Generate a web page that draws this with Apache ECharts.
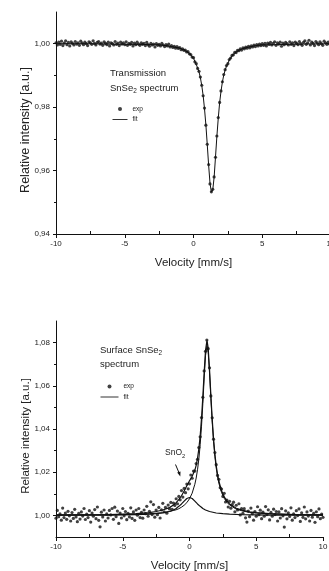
<!DOCTYPE html>
<html><head><meta charset="utf-8">
<script src="https://cdn.jsdelivr.net/npm/echarts@6/dist/echarts.min.js"></script>
<style>html,body{margin:0;padding:0;background:#fff}#c{width:329px;height:571px}</style>
</head><body><div id="c"></div>
<script>
// Channel velocities (mm/s), shared by both spectra
const velocity = [
-10,-9.9,-9.8,-9.7,-9.6,-9.5,-9.4,-9.3,-9.2,-9.1,
-9,-8.9,-8.8,-8.7,-8.6,-8.5,-8.4,-8.3,-8.2,-8.1,
-8,-7.9,-7.8,-7.7,-7.6,-7.5,-7.4,-7.3,-7.2,-7.1,
-7,-6.9,-6.8,-6.7,-6.6,-6.5,-6.4,-6.3,-6.2,-6.1,
-6,-5.9,-5.8,-5.7,-5.6,-5.5,-5.4,-5.3,-5.2,-5.1,
-5,-4.9,-4.8,-4.7,-4.6,-4.5,-4.4,-4.3,-4.2,-4.1,
-4,-3.9,-3.8,-3.7,-3.6,-3.5,-3.4,-3.3,-3.2,-3.1,
-3,-2.9,-2.8,-2.7,-2.6,-2.5,-2.4,-2.3,-2.2,-2.1,
-2,-1.9,-1.8,-1.7,-1.6,-1.5,-1.4,-1.3,-1.2,-1.1,
-1,-0.9,-0.8,-0.7,-0.6,-0.5,-0.4,-0.3,-0.2,-0.1,
0,0.1,0.2,0.3,0.4,0.5,0.6,0.7,0.8,0.9,
1,1.1,1.2,1.3,1.4,1.5,1.6,1.7,1.8,1.9,
2,2.1,2.2,2.3,2.4,2.5,2.6,2.7,2.8,2.9,
3,3.1,3.2,3.3,3.4,3.5,3.6,3.7,3.8,3.9,
4,4.1,4.2,4.3,4.4,4.5,4.6,4.7,4.8,4.9,
5,5.1,5.2,5.3,5.4,5.5,5.6,5.7,5.8,5.9,
6,6.1,6.2,6.3,6.4,6.5,6.6,6.7,6.8,6.9,
7,7.1,7.2,7.3,7.4,7.5,7.6,7.7,7.8,7.9,
8,8.1,8.2,8.3,8.4,8.5,8.6,8.7,8.8,8.9,
9,9.1,9.2,9.3,9.4,9.5,9.6,9.7,9.8,9.9,10];

// Transmission spectrum, measured points
const transmissionExp = [
1.0003,0.9996,1.0005,0.9998,1.0008,0.9994,1.0002,1.0009,0.9997,1.0004,
0.9993,1.0006,1.0001,0.9996,1.0007,0.9999,1.0003,0.9995,1.0008,1.0002,
0.9997,1.0005,1.0000,0.9994,1.0006,1.0003,0.9998,1.0009,1.0001,0.9996,
1.0004,1.0007,0.9999,1.0002,0.9995,1.0006,1.0001,0.9997,1.0005,0.9993,
1.0003,1.0000,0.9996,1.0007,0.9998,1.0002,0.9994,1.0005,0.9999,1.0003,
0.9997,1.0006,0.9995,1.0001,0.9998,1.0004,0.9993,1.0002,0.9997,1.0005,
0.9999,0.9995,1.0003,0.9998,1.0001,0.9994,1.0004,0.9997,0.9992,1.0001,
0.9996,0.9999,0.9990,1.0000,0.9995,0.9998,0.9993,1.0001,0.9996,0.9991,
0.9997,0.9993,0.9999,0.9990,0.9994,0.9988,0.9992,0.9986,0.9991,0.9985,
0.9988,0.9981,0.9984,0.9979,0.9980,0.9974,0.9975,0.9968,0.9966,0.9958,
0.9956,0.9943,0.9937,0.9922,0.9913,0.9895,0.9869,0.9836,0.9797,0.9743,
0.9683,0.9619,0.9558,0.9533,0.9541,0.9580,0.9642,0.9709,0.9767,0.9815,
0.9851,0.9880,0.9903,0.9918,0.9931,0.9937,0.9950,0.9955,0.9963,0.9965,
0.9973,0.9972,0.9979,0.9978,0.9984,0.9980,0.9987,0.9984,0.9989,0.9986,
0.9992,0.9987,0.9993,0.9990,0.9996,0.9991,0.9997,0.9993,0.9999,0.9994,
1.0000,0.9995,1.0001,0.9993,1.0002,0.9998,1.0004,0.9996,1.0001,1.0006,
0.9995,1.0003,0.9999,1.0005,0.9992,1.0002,0.9997,1.0004,1.0000,0.9996,
1.0006,0.9998,1.0003,0.9994,1.0005,1.0001,0.9997,1.0007,1.0000,0.9995,
1.0004,1.0009,0.9998,1.0003,1.0011,0.9996,1.0005,1.0001,0.9994,1.0007,
1.0002,0.9997,1.0006,1.0000,0.9995,1.0008,1.0003,0.9998,1.0005,0.9999,1.0004];

// Transmission spectrum, fit curve
const transFitV = [-10,-8,-6,-5,-4,-3,-2.5,-2,-1.5,-1,-0.6,-0.3,0,0.2,0.4,0.5,0.6,0.7,0.8,0.9,1.0,1.1,1.2,1.3,1.33,1.4,1.5,1.6,1.7,1.8,1.9,2.0,2.1,2.2,2.3,2.4,2.6,2.8,3.0,3.3,3.6,4,4.5,5,6,7,8,10];
const transFit  = [1.0000,1.0000,0.9999,0.9998,0.9998,0.9997,0.9996,0.9994,0.9990,0.9986,0.9978,0.9970,0.9954,0.9935,0.9911,0.9893,0.9868,0.9837,0.9795,0.9744,0.9682,0.9617,0.9560,0.9532,0.9530,0.9539,0.9579,0.9643,0.9708,0.9765,0.9814,0.9850,0.9879,0.9901,0.9917,0.9929,0.9948,0.9962,0.9971,0.9979,0.9985,0.9989,0.9994,0.9996,0.9997,0.9998,0.9999,1.0000];

// Surface spectrum, measured points
const surfaceExp = [
0.9987,1.0023,0.9994,1.0007,0.9978,1.0034,0.9990,1.0011,0.9982,1.0019,
0.9998,0.9974,1.0013,0.9986,1.0028,0.9993,0.9971,1.0009,0.9983,1.0016,
0.9997,1.0032,0.9981,1.0006,0.9990,1.0022,0.9969,1.0011,0.9996,1.0027,
0.9985,1.0039,0.9977,0.9947,1.0015,0.9993,1.0025,0.9974,1.0007,0.9988,
1.0023,1.0002,1.0032,0.9982,1.0038,0.9994,1.0020,0.9963,1.0011,0.9988,
1.0032,0.9998,1.0018,0.9980,1.0009,0.9993,1.0035,0.9986,1.0016,0.9977,
1.0025,1.0001,1.0032,0.9990,1.0014,0.9987,1.0025,1.0008,1.0042,0.9996,
1.0019,1.0063,1.0004,1.0050,0.9992,1.0025,1.0003,1.0037,0.9988,1.0026,
1.0056,1.0017,1.0037,1.0010,1.0048,1.0030,1.0060,1.0028,1.0057,1.0046,
1.0077,1.0054,1.0088,1.0072,1.0115,1.0085,1.0125,1.0105,1.0145,1.0123,
1.0146,1.0187,1.0172,1.0205,1.0205,1.0240,1.0260,1.0314,1.0364,1.0453,
1.0547,1.0669,1.0760,1.0812,1.0772,1.0683,1.0553,1.0452,1.0353,1.0291,
1.0235,1.0185,1.0167,1.0128,1.0122,1.0088,1.0102,1.0062,1.0071,1.0039,
1.0065,1.0033,1.0050,1.0061,1.0017,1.0047,1.0025,1.0054,1.0002,1.0032,
1.0010,1.0031,0.9989,0.9969,1.0020,0.9994,1.0034,1.0008,0.9978,1.0018,
0.9996,1.0040,1.0003,1.0024,0.9985,1.0015,0.9996,1.0041,1.0004,1.0026,
0.9979,1.0014,0.9996,1.0029,1.0004,1.0018,0.9974,1.0016,0.9988,1.0031,
0.9998,0.9946,1.0021,0.9984,1.0012,0.9995,1.0035,0.9978,1.0007,0.9990,
1.0022,0.9999,1.0030,0.9972,1.0012,0.9991,1.0039,0.9984,1.0016,0.9997,
0.9974,1.0023,0.9992,1.0009,0.9968,1.0017,0.9994,1.0030,0.9985,1.0006,0.9991];

// Surface spectrum, fit curves (total and SnSe2 component)
const surfFitV = [-10,-8,-6,-5,-4,-3,-2.5,-2,-1.5,-1.2,-1,-0.8,-0.6,-0.4,-0.2,0,0.2,0.4,0.5,0.6,0.7,0.8,0.9,1.0,1.1,1.2,1.31,1.4,1.5,1.6,1.7,1.8,1.9,2.0,2.1,2.2,2.4,2.6,2.8,3.0,3.5,4,4.5,5,6,7,8,10];
const surfFitTotal = [1.0002,1.0003,1.0004,1.0006,1.0008,1.0013,1.0018,1.0025,1.0036,1.0048,1.0059,1.0073,1.0091,1.0113,1.0137,1.0160,1.0181,1.0210,1.0232,1.0264,1.0308,1.0369,1.0449,1.0550,1.0664,1.0764,1.0810,1.0774,1.0677,1.0557,1.0447,1.0356,1.0285,1.0231,1.0190,1.0158,1.0114,1.0086,1.0067,1.0053,1.0033,1.0023,1.0016,1.0013,1.0008,1.0006,1.0004,1.0002];
const surfFitSnSe2 = [1.0001,1.0002,1.0003,1.0004,1.0005,1.0008,1.0010,1.0013,1.0018,1.0023,1.0026,1.0031,1.0038,1.0047,1.0059,1.0077,1.0103,1.0144,1.0173,1.0211,1.0261,1.0327,1.0413,1.0518,1.0636,1.0739,1.0787,1.0754,1.0659,1.0541,1.0432,1.0343,1.0273,1.0220,1.0180,1.0149,1.0106,1.0079,1.0061,1.0048,1.0029,1.0020,1.0014,1.0011,1.0007,1.0005,1.0003,1.0002];
// SnO2 component
const snO2V   = [-10,-8,-6,-5,-4,-3,-2.5,-2,-1.5,-1.2,-1,-0.8,-0.6,-0.4,-0.2,0,0.2,0.4,0.6,0.8,1,1.2,1.5,2,2.5,3,4,5,6,8,10];
const snO2Fit = [1.0001,1.0001,1.0001,1.0002,1.0003,1.0006,1.0008,1.0011,1.0018,1.0025,1.0032,1.0042,1.0053,1.0066,1.0078,1.0083,1.0078,1.0066,1.0053,1.0042,1.0032,1.0025,1.0018,1.0011,1.0008,1.0006,1.0003,1.0002,1.0001,1.0001,1.0001];

// Tick values
const xTicks = [-10,-5,0,5,10];
const xMinorTicks = [-7.5,-2.5,2.5,7.5];
const transYTicks = [0.94,0.96,0.98,1.00];
const transYMinor = [0.95,0.97,0.99];
const surfYTicks = [1.00,1.02,1.04,1.06,1.08];
const surfYMinor = [1.01,1.03,1.05,1.07];

const FONT = '"Liberation Sans", Arial, sans-serif';
const AX = '#111';
const pairs = (xs, ys) => xs.map((x, i) => [x, ys[i]]);
const fmtY = v => v.toFixed(2).replace('.', ',');

function xMain(gi) {
  return { type:'value', gridIndex:gi, position:'bottom', min:-10, max:10, interval:5,
    axisLine:{show:true, onZero:false, lineStyle:{color:AX, width:1}},
    axisTick:{show:true, inside:false, length:4, customValues:xTicks, lineStyle:{color:AX}},
    axisLabel:{fontSize:8, fontFamily:FONT, color:'#222', margin:5.5, customValues:xTicks},
    splitLine:{show:false},
    name:'Velocity [mm/s]', nameLocation:'middle', nameGap:23, nameMoveOverlap:false,
    nameTextStyle:{fontSize:11.5, fontFamily:FONT, color:'#222'} };
}
function xMinor(gi) {
  return { type:'value', gridIndex:gi, position:'bottom', min:-10, max:10,
    axisLine:{show:false, onZero:false}, axisLabel:{show:false}, splitLine:{show:false},
    axisTick:{show:true, inside:true, length:3, customValues:xMinorTicks, lineStyle:{color:AX}} };
}
function yMain(gi, min, max, ticks, fs) {
  return { type:'value', gridIndex:gi, position:'left', min:min, max:max,
    axisLine:{show:true, onZero:false, lineStyle:{color:AX, width:1}},
    axisTick:{show:true, inside:false, length:3, customValues:ticks, lineStyle:{color:AX}},
    axisLabel:{fontSize:8, fontFamily:FONT, color:'#222', margin:6, customValues:ticks, formatter:fmtY},
    splitLine:{show:false},
    name:'Relative intensity [a.u.]', nameLocation:'middle', nameGap:24, nameMoveOverlap:false,
    nameTextStyle:{fontSize:fs, fontFamily:FONT, color:'#222', padding:[0,14,0,0]} };
}
function yMinor(gi, min, max, ticks) {
  return { type:'value', gridIndex:gi, position:'left', min:min, max:max,
    axisLine:{show:false, onZero:false}, axisLabel:{show:false}, splitLine:{show:false},
    axisTick:{show:true, inside:false, length:2, customValues:ticks, lineStyle:{color:AX}} };
}
const legendBase = {
  data:[{name:'exp'}, {name:'fit', itemStyle:{opacity:0}, lineStyle:{width:1, color:'#333'}}],
  orient:'vertical', itemHeight:4, itemGap:3.5, padding:0,
  selectedMode:false, textStyle:{fontSize:6.5, fontFamily:FONT, color:'#222'}
};
const txt = (x, y, text, size, extra) => ({ type:'text', x:x, y:y, silent:true,
  style: Object.assign({ text:text, fontSize:size, fontFamily:FONT, fill:'#222', verticalAlign:'middle', align:'left' }, extra || {}) });
const subRich = size => ({ n:{fontSize:size, fontFamily:FONT, fill:'#222'}, s:{fontSize:size*0.68, fontFamily:FONT, fill:'#222', padding:[6,0,0,0]} });

const chart = echarts.init(document.getElementById('c'), null, {renderer:'canvas'});
chart.setOption({
  animation:false,
  backgroundColor:'#fff',
  grid:[
    {left:56, top:12, width:275, height:222, containLabel:false, outerBoundsMode:'none'},
    {left:56, top:321, width:267, height:216, containLabel:false, outerBoundsMode:'none'}
  ],
  xAxis:[xMain(0), xMinor(0), xMain(1), xMinor(1)],
  yAxis:[yMain(0, 0.94, 1.01, transYTicks, 12.5), yMinor(0, 0.94, 1.01, transYMinor),
         yMain(1, 0.99, 1.09, surfYTicks, 11.5), yMinor(1, 0.99, 1.09, surfYMinor)],
  legend:[
    Object.assign({}, legendBase, {left:112, top:105.5, itemWidth:15}),
    Object.assign({}, legendBase, {left:100, top:383, itemWidth:18})
  ],
  series:[
    {type:'line', name:'fit', xAxisIndex:0, yAxisIndex:0, data:pairs(transFitV, transFit),
     symbol:'none', showSymbol:false, lineStyle:{color:'#111', width:1}, itemStyle:{color:'#111'}, z:2, silent:true},
    {type:'scatter', name:'exp', xAxisIndex:0, yAxisIndex:0, data:pairs(velocity, transmissionExp),
     symbolSize:3.2, itemStyle:{color:'#111'}, z:3, silent:true},
    {type:'line', name:'fit', xAxisIndex:2, yAxisIndex:2, data:pairs(surfFitV, surfFitTotal),
     symbol:'none', showSymbol:false, lineStyle:{color:'#111', width:1.2}, itemStyle:{color:'#111'}, z:2, silent:true},
    {type:'line', name:'SnSe2 component', xAxisIndex:2, yAxisIndex:2, data:pairs(surfFitV, surfFitSnSe2),
     symbol:'none', showSymbol:false, lineStyle:{color:'#111', width:1}, z:2, silent:true},
    {type:'line', name:'SnO2 component', xAxisIndex:2, yAxisIndex:2, data:pairs(snO2V, snO2Fit),
     symbol:'none', showSymbol:false, lineStyle:{color:'#111', width:1.2}, z:2, silent:true},
    {type:'scatter', name:'exp', xAxisIndex:2, yAxisIndex:2, data:pairs(velocity, surfaceExp),
     symbolSize:3.2, itemStyle:{color:'#111'}, z:3, silent:true}
  ],
  graphic:[
    txt(110, 73, 'Transmission', 9.5),
    txt(110, 88, '{n|SnSe}{s|2}{n| spectrum}', 9.5, {rich:subRich(9.5), lineHeight:12}),
    txt(100, 350, '{n|Surface SnSe}{s|2}', 9.5, {rich:subRich(9.5), lineHeight:12}),
    txt(100, 364, 'spectrum', 9.5),
    txt(165, 453, '{n|SnO}{s|2}', 8.5, {rich:subRich(8.5), lineHeight:11}),
    {type:'line', silent:true, shape:{x1:175.5, y1:464.5, x2:179.3, y2:473.5}, style:{stroke:'#111', lineWidth:1}},
    {type:'polygon', silent:true, shape:{points:[[180.3,476.5],[177.2,472.6],[180.5,471.5]]}, style:{fill:'#111'}}
  ]
});
</script></body></html>
